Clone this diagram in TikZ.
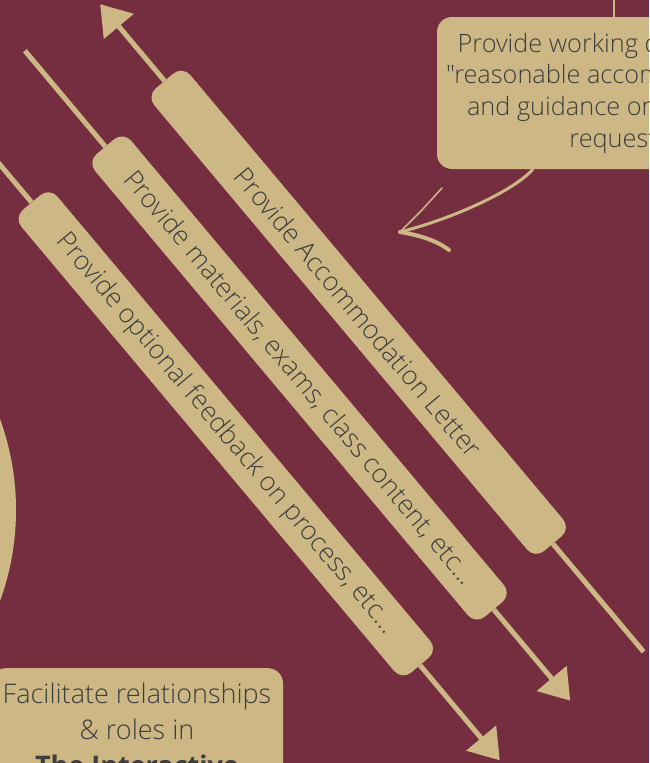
\documentclass[tikz,border=0pt]{standalone}
\usepackage{fontspec}
\setmainfont{Open Sans}[Ligatures=TeXOff]
\newfontfamily\thin{Open Sans Light}[Ligatures=TeXOff]
\usetikzlibrary{arrows.meta,calc}

\definecolor{maroon}{RGB}{117,45,64}
\definecolor{sand}{RGB}{205,184,133}
\definecolor{ink}{RGB}{62,62,62}

\tikzset{
    bar/.style={fill=sand, rounded corners=12pt, rotate=-50, inner sep=0pt,
        minimum width=604pt, minimum height=47pt, text=ink,
        font=\thin\fontsize{26.5}{30}\selectfont},
    stem/.style={draw=sand, line width=5pt},
    tip/.style={-{Triangle[length=29pt,width=38pt]}},
    card/.style={fill=sand, rounded corners=15pt, text=ink, align=center},
    sketch/.style={draw=sand, line cap=round, line join=round}
}

\begin{document}
\begin{tikzpicture}[x=1pt,y=1pt]
    \useasboundingbox (0,0) rectangle (649,-763);
    \clip (0,0) rectangle (649,-763);
    \fill[maroon] (0,0) rectangle (649,-763);
    \fill[sand] (-250,-510) circle (266);

    % the three steps
    \node[bar] (acc) at (358.7,-312.3) {Provide Accommodation Letter};
    \node[bar] (mat) at (299.5,-378) {Provide materials, exams, class content, etc...};
    \node[bar] (fbk) at (225.8,-433.8) {Provide optional feedback on process, etc...};

    \coordinate (acc-in) at ($(acc.west)+(130:100)$);
    \coordinate (acc-out) at ($(acc.east)+(-50:141)$);
    \coordinate (mat-in) at ($(mat.west)+(130:125)$);
    \coordinate (mat-out) at ($(mat.east)+(-50:119)$);
    \coordinate (fbk-in) at ($(fbk.west)+(130:110)$);
    \coordinate (fbk-out) at ($(fbk.east)+(-50:124)$);

    \draw[stem,tip] (acc.west) -- (acc-in);
    \draw[stem] (acc.east) -- (acc-out);
    \draw[stem] (mat-in) -- (mat.west);
    \draw[stem,tip] (mat.east) -- (mat-out);
    \draw[stem] (fbk-in) -- (fbk.west);
    \draw[stem,tip] (fbk.east) -- (fbk-out);

    % note at the top
    \node[card, minimum width=364pt, minimum height=152pt,
        font=\thin\fontsize{25.3}{31.7}\selectfont] (defn) at (619,-93)
        {Provide working definition of\\"reasonable accommodations"\\and guidance on individual\\requests};
    \coordinate (top) at (614,0);
    \draw[sketch, line width=2.5pt] (top) -- (top |- defn.north);

    \coordinate (hint) at (400,-232);
    \draw[sketch, line width=3pt] ($(defn.south west)+(96,0)$)
        .. controls (515,-190) and (455,-218) .. (hint);
    \draw[sketch, line width=1.5pt] (hint) -- (421,-211) -- (442,-188);
    \draw[sketch, line width=4pt] (hint) .. controls (425,-236) and (440,-243) .. (449,-250);

    % box at the bottom
    \node[card, anchor=north, minimum width=292pt, inner ysep=15pt,
        font=\thin\fontsize{27}{36}\selectfont] (roles) at (137,-668)
        {Facilitate relationships\\\& roles in\\{\rmfamily\bfseries The Interactive}};
\end{tikzpicture}
\end{document}
